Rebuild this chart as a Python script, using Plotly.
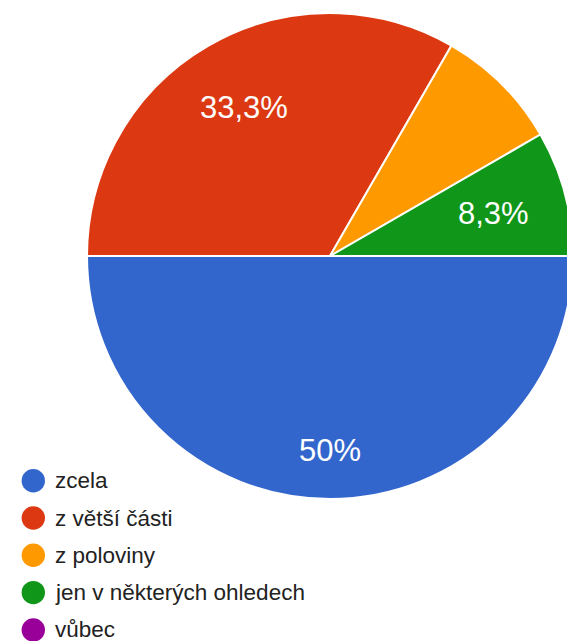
import math
import plotly.graph_objects as go

labels = ["zcela", "z větší části", "z poloviny", "jen v některých ohledech", "vůbec"]
values = [6, 4, 1, 1, 0]
colors = ["#3366cc", "#dc3912", "#ff9900", "#109618", "#990099"]
show_pct = [True, True, False, True, False]

W, H = 573, 641          # figure slightly wider than the window (right edge cut like the reference)
CX, CY, R = 330, 256, 243  # pie centre / radius in pixels (set through the domain)

fig = go.Figure()
fig.add_trace(go.Pie(
    labels=labels,
    values=values,
    textinfo="none",
    sort=False,
    direction="clockwise",
    rotation=90,
    marker=dict(colors=colors, line=dict(color="white", width=2)),
    domain=dict(x=[(CX - R) / W, (CX + R) / W], y=[1 - (CY + R) / H, 1 - (CY - R) / H]),
    showlegend=False,
    hoverinfo="label+percent",
))

# percentage labels placed like the original (outer text corner at ~0.85 R)
FS = 31
char_w = {"0": .556, "1": .556, "2": .556, "3": .556, "4": .556, "5": .556, "6": .556,
          "7": .556, "8": .556, "9": .556, ",": .278, "%": .889}
total = sum(values)
annotations = []
cum = 0.0
for lab, v, show in zip(labels, values, show_pct):
    frac = v / total
    start = 0 - 360 * cum  # first slice starts at 3 o'clock, going clockwise (rotation=90)
    mid = math.radians(start - 180 * frac)
    cum += frac
    if not show or v == 0:
        continue
    pct = round(frac * 100, 1)
    txt = (f"{pct:.1f}" if pct % 1 else f"{pct:.0f}").replace(".", ",") + "%"
    w = sum(char_w.get(c, .556) for c in txt) * FS
    h = 0.716 * FS
    ux, uy = math.cos(mid), math.sin(mid)
    kx = math.copysign(w / 2, ux) if abs(ux) > 1e-9 else w / 2
    ky = math.copysign(h / 2, uy) if abs(uy) > 1e-9 else h / 2
    uk = ux * kx + uy * ky
    rt = 0.85 * R
    d = -uk + math.sqrt(uk * uk - (kx * kx + ky * ky) + rt * rt)
    px, py = CX + d * ux, CY - d * uy
    annotations.append(dict(
        text=txt, xref="paper", yref="paper",
        x=px / W, y=1 - (py + 1) / H, xanchor="center", yanchor="middle",
        showarrow=False, font=dict(family="Arial", size=FS, color="white"),
    ))

# custom legend (circle markers + text)
leg_x = 33.3
leg_y0 = 480.7
leg_step = 37.3
rad = 11.7
shapes = []
for i, (lab, col) in enumerate(zip(labels, colors)):
    cy = leg_y0 + i * leg_step
    shapes.append(dict(
        type="circle", xref="paper", yref="paper",
        x0=(leg_x - rad) / W, x1=(leg_x + rad) / W,
        y0=1 - (cy + rad) / H, y1=1 - (cy - rad) / H,
        fillcolor=col, line=dict(width=0),
    ))
    annotations.append(dict(
        text=lab, xref="paper", yref="paper",
        x=53 / W, y=1 - cy / H, xanchor="left", yanchor="middle",
        showarrow=False,
        font=dict(family="Arial", size=22.5, color="#222222"),
    ))

fig.update_layout(
    width=W, height=H,
    margin=dict(l=0, r=0, t=0, b=0),
    paper_bgcolor="white",
    plot_bgcolor="white",
    shapes=shapes,
    annotations=annotations,
)

fig.write_html(
    "out.html",
    config={"displayModeBar": False},
    post_script="document.body.style.margin='0';document.body.style.overflow='hidden';",
)
